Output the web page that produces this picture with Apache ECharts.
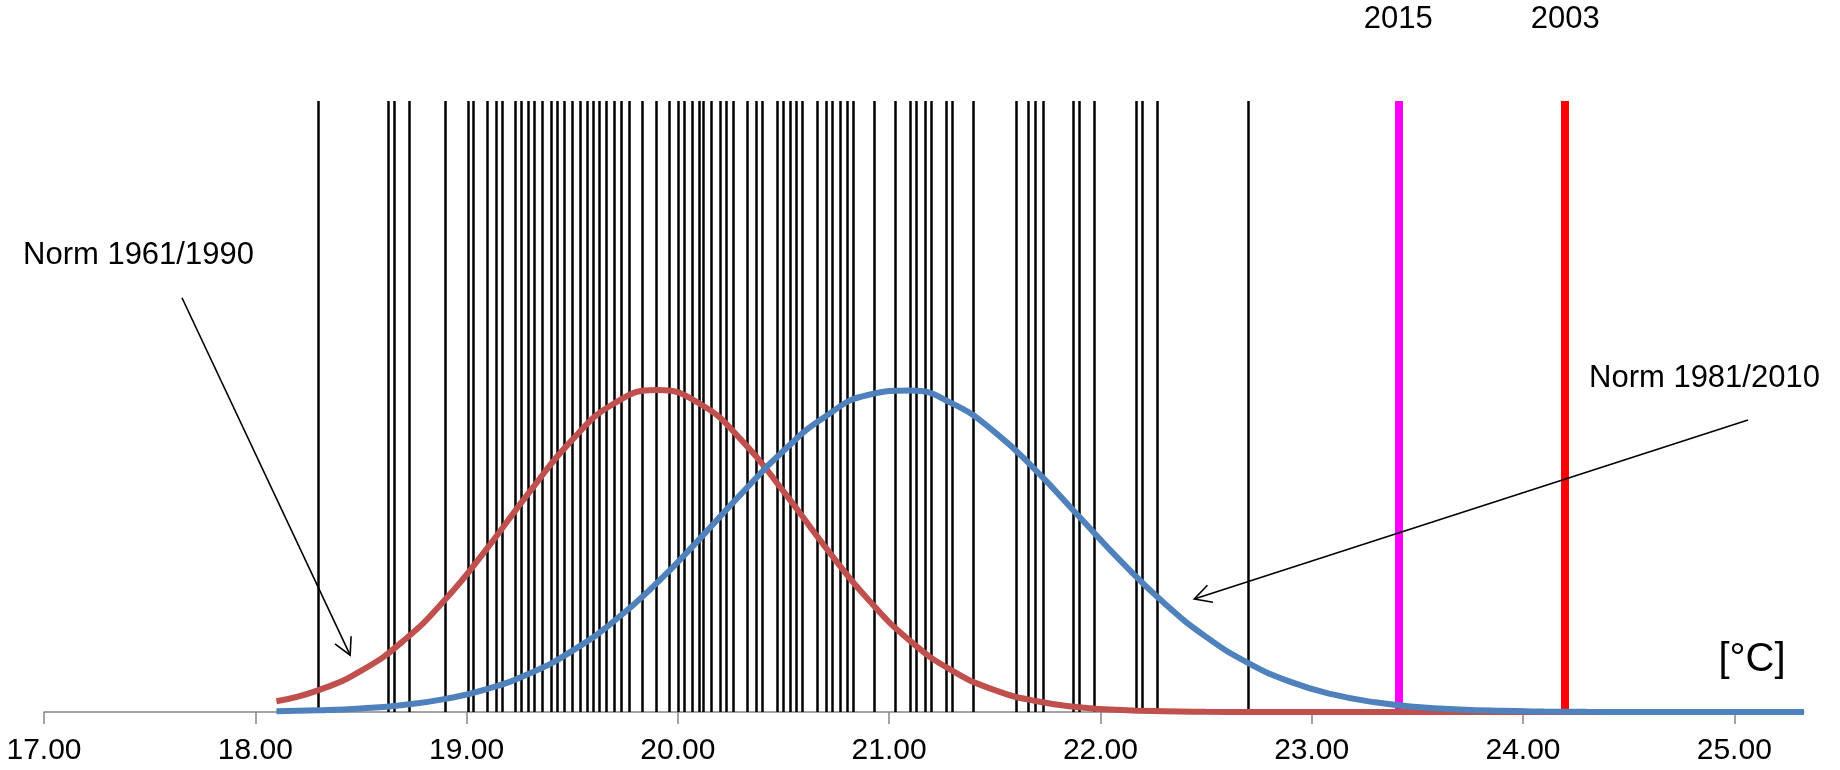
<!DOCTYPE html>
<html>
<head>
<meta charset="utf-8">
<script src="https://cdn.jsdelivr.net/npm/echarts@6/dist/echarts.min.js"></script>
<style>
html,body{margin:0;padding:0;background:#fff;}
#chart{width:1840px;height:770px;}
</style>
</head>
<body>
<div id="chart"></div>
<script>
// ---- data ----
const tickValues = [17, 18, 19, 20, 21, 22, 23, 24, 25];
const summerTemps = [18.30, 18.63, 18.66, 18.73, 18.90, 19.01, 19.03, 19.10, 19.14, 19.17,
  19.23, 19.26, 19.29, 19.32, 19.36, 19.40, 19.43, 19.46, 19.50, 19.54,
  19.57, 19.60, 19.63, 19.66, 19.70, 19.73, 19.77, 19.83, 19.90, 19.96,
  20.00, 20.03, 20.07, 20.10, 20.12, 20.16, 20.20, 20.23, 20.26, 20.33,
  20.37, 20.40, 20.47, 20.50, 20.53, 20.56, 20.59, 20.66, 20.70, 20.73,
  20.77, 20.80, 20.83, 20.93, 21.03, 21.10, 21.13, 21.17, 21.20, 21.27,
  21.30, 21.40, 21.60, 21.66, 21.69, 21.73, 21.87, 21.90, 21.97, 22.17,
  22.20, 22.27, 22.70];
const highlightYears = ['2015', '2003'];
const highlightTemps = [23.41, 24.20];
const curveX = [18.1, 18.3, 18.5, 18.7, 18.9, 19.1, 19.3, 19.5, 19.7, 19.9,
  20.1, 20.3, 20.5, 20.7, 20.9, 21.1, 21.3, 21.5, 21.7, 21.9,
  22.1, 22.3, 22.5, 22.7, 22.9, 23.1, 23.3, 23.5, 23.7, 23.9,
  24.1, 24.3, 24.5, 24.7, 24.9, 25.1, 25.33];
const norm6190 = [0.0175, 0.0358, 0.0673, 0.1162, 0.1844, 0.2691, 0.3611, 0.4455, 0.5053, 0.527,
  0.5053, 0.4455, 0.3611, 0.2691, 0.1844, 0.1162, 0.0673, 0.0358, 0.0175, 0.0079,
  0.0033, 0.0012, 0.0004, 0.0001, 0, 0, 0, 0, 0, 0,
  0, 0, 0, 0, 0, 0, 0];
const norm8110 = [0.0013, 0.0028, 0.0059, 0.0115, 0.0215, 0.0379, 0.0633, 0.1000, 0.1493, 0.2110,
  0.2822, 0.3571, 0.4275, 0.4842, 0.5189, 0.5261, 0.5047, 0.4581, 0.3934, 0.3196,
  0.2457, 0.1787, 0.1230, 0.0801, 0.0493, 0.0288, 0.0159, 0.0083, 0.0041, 0.0019,
  0.0008, 0.0003, 0.0001, 0, 0, 0, 0];
const seriesNames = ['Norm 1961/1990', 'Norm 1981/2010'];
const unitLabel = '[°C]';
// arrow annotations in data coordinates [from, to]
const arrow6190 = [[17.653, 0.678], [18.449, 0.093]];
const arrow8110 = [[25.065, 0.478], [22.444, 0.185]];

// ---- chart ----
const chart = echarts.init(document.getElementById('chart'), null, {renderer: 'canvas'});
const FONT = "'Liberation Sans', Arial, sans-serif";
const pair = (xs, ys) => xs.map((x, i) => [x, ys[i]]);
const highlightColors = ['#FF00FF', '#FF0000'];

const option = {
  backgroundColor: '#ffffff',
  animation: false,
  grid: {left: 44, right: 36, top: 101, bottom: 58, containLabel: false},
  xAxis: {
    type: 'value', min: 17, max: 25.33, interval: 1,
    axisLine: {show: true, lineStyle: {color: '#868686', width: 1.5}},
    axisTick: {show: true, length: 12, lineStyle: {color: '#868686', width: 1.5}, customValues: tickValues},
    axisLabel: {
      customValues: tickValues,
      formatter: v => Number(v).toFixed(2),
      fontFamily: "'Liberation Sans Narrow', 'Liberation Sans', Arial, sans-serif",
      fontSize: 30, color: '#000', margin: 24
    },
    splitLine: {show: false}
  },
  yAxis: {type: 'value', min: 0, max: 1, show: false},
  series: [
    {
      type: 'scatter', data: [], z: 2, silent: true,
      markLine: {
        silent: true, symbol: ['none', 'none'], animation: false, z: 2,
        label: {show: false},
        lineStyle: {color: '#000', width: 2.5, type: 'solid'},
        emphasis: {disabled: true},
        data: summerTemps.map(v => ({xAxis: v}))
      }
    },
    {
      type: 'scatter', data: [], z: 3, silent: true,
      markLine: {
        silent: true, symbol: ['none', 'none'], animation: false, z: 3,
        label: {show: false},
        emphasis: {disabled: true},
        data: highlightTemps.map((v, i) => ({xAxis: v, lineStyle: {color: highlightColors[i], width: 8, type: 'solid'}}))
      }
    },
    {
      name: seriesNames[0], type: 'line', smooth: true, showSymbol: false, z: 5,
      lineStyle: {color: '#C0504D', width: 6}, itemStyle: {color: '#C0504D'},
      data: pair(curveX, norm6190)
    },
    {
      name: seriesNames[1], type: 'line', smooth: true, showSymbol: false, z: 6,
      lineStyle: {color: '#4F81BD', width: 6}, itemStyle: {color: '#4F81BD'},
      data: pair(curveX, norm8110)
    }
  ]
};
chart.setOption(option);

function toPx(p) { return chart.convertToPixel({gridIndex: 0}, p); }
function arrowGraphic(a) {
  const p0 = toPx(a[0]), p1 = toPx(a[1]);
  const dx = p1[0] - p0[0], dy = p1[1] - p0[1];
  const L = Math.hypot(dx, dy), ux = dx / L, uy = dy / L;
  const h = 19, ang = 28 * Math.PI / 180;
  const rot = (x, y, t) => [x * Math.cos(t) - y * Math.sin(t), x * Math.sin(t) + y * Math.cos(t)];
  const r1 = rot(-ux, -uy, ang), r2 = rot(-ux, -uy, -ang);
  const style = {stroke: '#000', lineWidth: 1.6, fill: null};
  return [
    {type: 'line', shape: {x1: p0[0], y1: p0[1], x2: p1[0], y2: p1[1]}, style: style, z: 20},
    {type: 'polyline', shape: {points: [[p1[0] + h * r1[0], p1[1] + h * r1[1]], p1, [p1[0] + h * r2[0], p1[1] + h * r2[1]]]}, style: style, z: 20}
  ];
}
const graphics = [];
highlightYears.forEach((yr, i) => {
  const px = toPx([highlightTemps[i], 1]);
  graphics.push({type: 'text', x: px[0], y: 19, z: 20,
    style: {text: yr, font: '31px ' + FONT, fill: '#000', align: 'center', verticalAlign: 'middle'}});
});
graphics.push({type: 'text', x: 23, y: 255, z: 20,
  style: {text: seriesNames[0], font: '31px ' + FONT, fill: '#000', align: 'left', verticalAlign: 'middle'}});
graphics.push({type: 'text', x: 1589, y: 378, z: 20,
  style: {text: seriesNames[1], font: '31px ' + FONT, fill: '#000', align: 'left', verticalAlign: 'middle'}});
graphics.push({type: 'text', x: 1752, y: 660, z: 20,
  style: {text: unitLabel, font: '40px ' + FONT, fill: '#000', align: 'center', verticalAlign: 'middle'}});
arrowGraphic(arrow6190).forEach(g => graphics.push(g));
arrowGraphic(arrow8110).forEach(g => graphics.push(g));
chart.setOption({graphic: graphics});
</script>
</body>
</html>
